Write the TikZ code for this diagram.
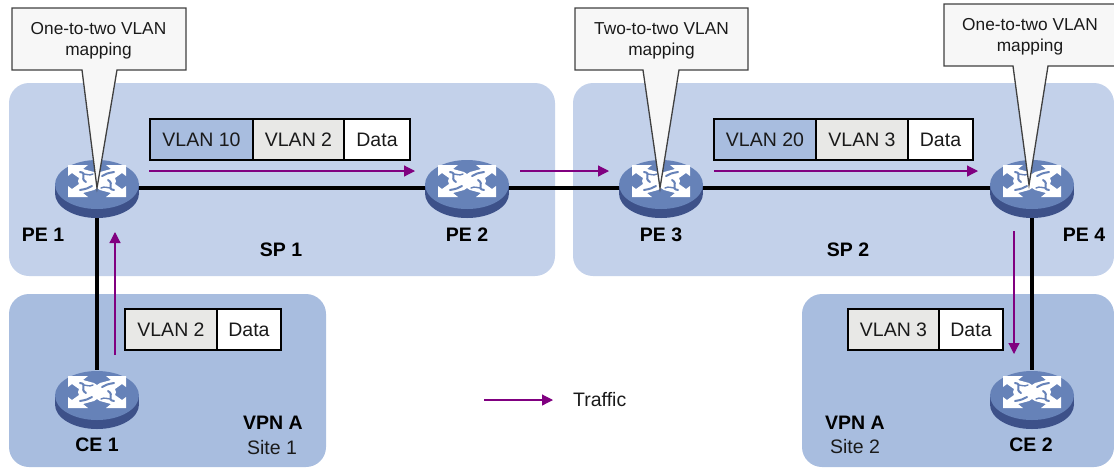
\documentclass[tikz,border=0pt]{standalone}
\usepackage{fontspec}
\setmainfont{Liberation Sans}
\usetikzlibrary{arrows.meta,shapes.geometric}
\definecolor{spfill}{HTML}{C3D1EA}
\definecolor{vpnfill}{HTML}{A8BDDF}
\definecolor{greyfill}{HTML}{E8E8E6}
\definecolor{callfill}{HTML}{F7F7F7}
\definecolor{traffic}{HTML}{800080}
\definecolor{rtop}{HTML}{6682B8}
\definecolor{rside}{HTML}{3D5189}
\definecolor{txt}{HTML}{1A1A1A}
\tikzset{
  x=1pt,y=-1pt,
  region/.style={rounded corners=20pt},
  routernode/.style={shape=ellipse,inner sep=0pt,minimum width=84pt,minimum height=58pt},
  link/.style={line width=3.2pt,black},
  flow/.style={line width=1.2pt,traffic,-{Triangle[length=11pt,width=11pt]}},
  cell/.style={draw=black,line width=2pt,inner sep=0pt,minimum height=41pt,text height=14pt,text depth=0pt,text=txt,font=\fontsize{19.5}{22}\selectfont},
  lab/.style={inner sep=0pt,text height=14pt,text depth=0pt,text=txt,font=\fontsize{19.5}{22}\selectfont},
  blab/.style={lab,font=\fontsize{19.5}{22}\selectfont\bfseries,text=black},
  calltext/.style={inner sep=0pt,align=center,text=txt,font=\fontsize{17.3}{20.6}\selectfont},
  callshape/.style={fill=callfill,draw=black!75,line width=1.3pt,line join=miter},
  swirl/.style={rtop,line width=2pt,line cap=round},
  routericon/.pic={
    \fill[rside] (0,5.5) ellipse[x radius=42,y radius=24.5];
    \fill[rside] (-42,-3.5) rectangle (42,5.5);
    \fill[rtop] (0,-3.5) ellipse[x radius=42,y radius=24.5];
    \begin{scope}[shift={(0,-7)}]
    \fill[white] (-29,-16) -- (-9,-16) -- (-14,-12) -- (-3,-9) -- (0,-7) -- (3,-9) -- (14,-12) -- (9,-16) -- (29,-16) -- (29,-5) -- (25,-8) -- (18,-3) -- (19,0) -- (18,3) -- (25,8) -- (29,5) -- (29,16) -- (9,16) -- (14,12) -- (3,9) -- (0,7) -- (-3,9) -- (-14,12) -- (-9,16) -- (-29,16) -- (-29,5) -- (-25,8) -- (-18,3) -- (-19,0) -- (-18,-3) -- (-25,-8) -- (-29,-5) -- cycle;
    \draw[swirl] (-17,-9) .. controls (-9,-8) and (-18,-3) .. (-11,1);
    \draw[swirl] (17,9) .. controls (9,8) and (18,3) .. (11,-1);
    \draw[swirl] (17,-9) .. controls (11,-8) and (8,-7) .. (5,-5);
    \draw[swirl] (-17,9) .. controls (-11,8) and (-8,7) .. (-5,5);
    \draw[swirl,line width=1.4pt] (4,7) .. controls (8,5) and (10,7) .. (13,7);
    \draw[swirl,line width=1.4pt] (-4,-7) .. controls (-8,-5) and (-10,-7) .. (-13,-7);
    \end{scope}
  }
}
\begin{document}
\begin{tikzpicture}
\useasboundingbox (0,0) rectangle (1114,467);
\clip (0,0) rectangle (1114,467);
% regions
\fill[spfill,region] (9,83) rectangle (555,276);
\fill[spfill,region] (573,83) rectangle (1114,276);
\fill[vpnfill,region] (9,294) rectangle (326,467);
\fill[vpnfill,region] (802,294) rectangle (1114,467);
% routers
\node[routernode] (pe1) at (97,188) {};
\node[routernode] (pe2) at (467,188) {};
\node[routernode] (pe3) at (661,188) {};
\node[routernode] (pe4) at (1032,188) {};
\node[routernode] (ce1) at (97,399) {};
\node[routernode] (ce2) at (1032,399) {};
% links
\draw[link] (pe1) -- (pe2);
\draw[link] (pe2) -- (pe3);
\draw[link] (pe3) -- (pe4);
\draw[link] (pe1) -- (ce1);
\draw[link] (pe4) -- (ce2);
\foreach \r in {pe1,pe2,pe3,pe4,ce1,ce2} \pic at (\r) {routericon};
% packets
\node[cell,fill=vpnfill,minimum width=103.5pt] (p1a) at (201.5,139.5) {VLAN 10};
\node[cell,fill=greyfill,minimum width=91pt] (p1b) at (298.5,139.5) {VLAN 2};
\node[cell,fill=white,minimum width=66pt] (p1c) at (377,139.5) {Data};
\node[cell,fill=vpnfill,minimum width=102pt] (p2a) at (765,139.5) {VLAN 20};
\node[cell,fill=greyfill,minimum width=92pt] (p2b) at (862,139.5) {VLAN 3};
\node[cell,fill=white,minimum width=65pt] (p2c) at (940.5,139.5) {Data};
\node[cell,fill=greyfill,minimum width=92pt] (p3a) at (171,329.5) {VLAN 2};
\node[cell,fill=white,minimum width=64pt] (p3b) at (249,329.5) {Data};
\node[cell,fill=greyfill,minimum width=91pt] (p4a) at (893.5,329.5) {VLAN 3};
\node[cell,fill=white,minimum width=64pt] (p4b) at (971,329.5) {Data};
% traffic arrows
\coordinate (a1s) at (149,171); \coordinate (a1e) at (415,171);
\coordinate (a2s) at (520,171); \coordinate (a2e) at (609,171);
\coordinate (a3s) at (714,171); \coordinate (a3e) at (978,171);
\coordinate (a4s) at (1014,231); \coordinate (a4e) at (1014,354);
\coordinate (a5s) at (115,355); \coordinate (a5e) at (115,232);
\coordinate (a6s) at (484,400); \coordinate (a6e) at (553,400);
\draw[flow] (a1s) -- (a1e);
\draw[flow] (a2s) -- (a2e);
\draw[flow] (a3s) -- (a3e);
\draw[flow] (a4s) -- (a4e);
\draw[flow] (a5s) -- (a5e);
\draw[flow] (a6s) -- (a6e);
% callouts
\draw[callshape] (12,8) -- (186,8) -- (186,70) -- (117,70) -- (97,188) -- (82,70) -- (12,70) -- cycle;
\draw[callshape] (575,8) -- (748,8) -- (748,70) -- (679,70) -- (660,188) -- (643,70) -- (575,70) -- cycle;
\draw[callshape] (944,4) -- (1118,4) -- (1118,66) -- (1048,66) -- (1029,185) -- (1013,66) -- (944,66) -- cycle;
\node[calltext] (c1) at (98.5,41) {One-to-two VLAN\\mapping};
\node[calltext] (c2) at (661.5,41) {Two-to-two VLAN\\mapping};
\node[calltext] (c3) at (1030,37) {One-to-two VLAN\\mapping};
% labels
\node[blab] (lpe1) at (43,234) {PE 1};
\node[blab] (lpe2) at (467,234) {PE 2};
\node[blab] (lpe3) at (661,234) {PE 3};
\node[blab] (lpe4) at (1084,234) {PE 4};
\node[blab] (lsp1) at (281,249) {SP 1};
\node[blab] (lsp2) at (848,249) {SP 2};
\node[blab] (lce1) at (97,444) {CE 1};
\node[blab] (lce2) at (1031,444) {CE 2};
\node[blab] (lv1) at (273,422) {VPN A};
\node[lab] (ls1) at (272,447) {Site 1};
\node[blab] (lv2) at (855,422) {VPN A};
\node[lab] (ls2) at (855,446) {Site 2};
\node[lab,anchor=west] (ltr) at (573,399) {Traffic};
\end{tikzpicture}
\end{document}
